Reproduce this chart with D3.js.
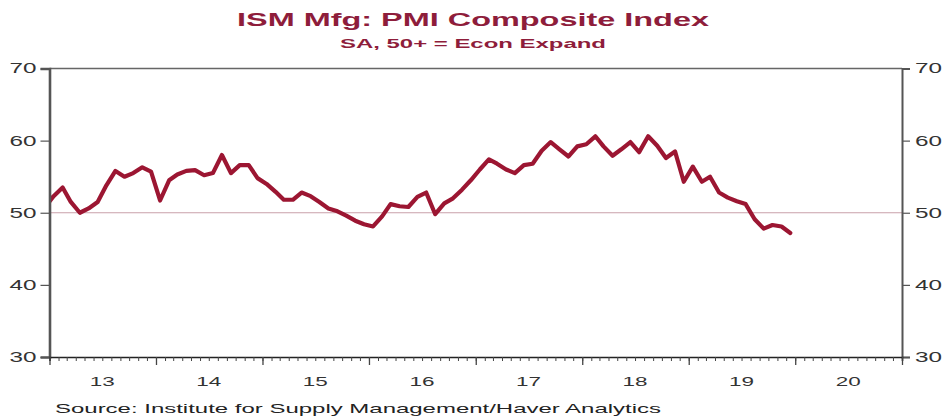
<!DOCTYPE html>
<html>
<head>
<meta charset="utf-8">
<script src="https://cdn.jsdelivr.net/npm/d3@7"></script>
<style>
  html, body { margin: 0; padding: 0; background: #fff; }
  svg { display: block; font-family: "Liberation Sans", Arial, sans-serif; }
</style>
</head>
<body>
<svg id="chart" width="945" height="417"></svg>
<script>
// ---- Data ----
const titleText = "ISM Mfg: PMI Composite Index";
const subtitleText = "SA, 50+ = Econ Expand";
const sourceText = "Source:  Institute for Supply Management/Haver Analytics";
const firstMonth = "2012-12";   // first observation (monthly, Dec 2012 .. Dec 2019)
const pmiValues = [
  50.7,
  52.3, 53.5, 51.5, 50.0, 50.6, 51.5, 53.8, 55.8, 55.0, 55.5, 56.3, 55.7,
  51.7, 54.5, 55.3, 55.8, 55.9, 55.2, 55.5, 58.0, 55.5, 56.6, 56.6, 54.8,
  54.0, 52.9, 51.8, 51.8, 52.8, 52.3, 51.5, 50.6, 50.2, 49.6, 48.9, 48.4,
  48.1, 49.5, 51.2, 50.9, 50.8, 52.2, 52.8, 49.8, 51.3, 52.0, 53.2, 54.5,
  56.0, 57.4, 56.8, 56.0, 55.5, 56.6, 56.8, 58.6, 59.8, 58.8, 57.8, 59.2,
  59.5, 60.6, 59.2, 57.9, 58.8, 59.8, 58.4, 60.6, 59.3, 57.6, 58.5, 54.3,
  56.4, 54.3, 55.0, 52.8, 52.1, 51.6, 51.2, 49.1, 47.8, 48.3, 48.1, 47.2
];
const yTicks = [30, 40, 50, 60, 70];
const yearTicks = [2013, 2014, 2015, 2016, 2017, 2018, 2019, 2020, 2021];
const yearLabels = ["13", "14", "15", "16", "17", "18", "19", "20"];
const refLevel = 50;

// ---- Layout ----
const svg = d3.select("#chart");
const L = 49.5, R = 902, T = 68.5, B = 357;
const lineColor = "#9c1632";
const titleColor = "#8e1d3b";

const x = d3.scaleTime()
  .domain([new Date(2013, 0, 1), new Date(2021, 0, 1)])
  .range([L, R]);
const y = d3.scaleLinear().domain([30, 70]).range([B, T]);

const start = d3.timeParse("%Y-%m")(firstMonth);
const data = pmiValues.map((v, i) => {
  const d = d3.timeMonth.offset(start, i);
  return { date: new Date(d.getFullYear(), d.getMonth(), 15), value: v };
});

// Titles
svg.append("text").attr("x", 473).attr("y", 26).attr("text-anchor", "middle")
  .attr("font-size", 18.5).attr("font-weight", "bold").attr("fill", titleColor)
  .attr("textLength", 472).attr("lengthAdjust", "spacingAndGlyphs")
  .text(titleText);
svg.append("text").attr("x", 473).attr("y", 48).attr("text-anchor", "middle")
  .attr("font-size", 12.5).attr("font-weight", "bold").attr("fill", titleColor)
  .attr("textLength", 266).attr("lengthAdjust", "spacingAndGlyphs")
  .text(subtitleText);

// Clip
svg.append("clipPath").attr("id", "plotclip").append("rect")
  .attr("x", L).attr("y", T).attr("width", R - L).attr("height", B - T);

// Reference line at 50
svg.append("line")
  .attr("x1", L).attr("x2", R).attr("y1", y(refLevel)).attr("y2", y(refLevel))
  .attr("stroke", "#c9a0aa").attr("stroke-width", 1.2);

// Series line
const line = d3.line().x(d => x(d.date)).y(d => y(d.value));
svg.append("path").datum(data)
  .attr("clip-path", "url(#plotclip)")
  .attr("fill", "none").attr("stroke", lineColor)
  .attr("stroke-width", 4.2).attr("stroke-linejoin", "round").attr("stroke-linecap", "round")
  .attr("d", line);

// Frame: top
svg.append("line").attr("x1", L).attr("x2", R).attr("y1", T).attr("y2", T)
  .attr("stroke", "#666").attr("stroke-width", 1.5);

// Left axis
const leftAxis = d3.axisLeft(y).tickValues(yTicks).tickSize(9).tickFormat(d3.format("d"));
const gL = svg.append("g").attr("transform", `translate(${L},0)`).call(leftAxis);
gL.select(".domain").attr("stroke", "#555").attr("stroke-width", 2.6);
gL.selectAll(".tick line").attr("stroke", "#555").attr("stroke-width", 1.2);
gL.selectAll(".tick text").attr("font-size", 14).attr("fill", "#333")
  .attr("font-family", "Liberation Sans, Arial, sans-serif")
  .attr("x", -13).attr("textLength", 27).attr("lengthAdjust", "spacingAndGlyphs");

// Right axis
const rightAxis = d3.axisRight(y).tickValues(yTicks).tickSize(8).tickFormat(d3.format("d"));
const gR = svg.append("g").attr("transform", `translate(${R},0)`).call(rightAxis);
gR.select(".domain").attr("stroke", "#555").attr("stroke-width", 2);
gR.selectAll(".tick line").attr("stroke", "#555").attr("stroke-width", 1.2);
gR.selectAll(".tick text").attr("font-size", 14).attr("fill", "#333")
  .attr("font-family", "Liberation Sans, Arial, sans-serif")
  .attr("x", 13).attr("textLength", 27).attr("lengthAdjust", "spacingAndGlyphs");

// Bottom axis: minor monthly ticks
const minorAxis = d3.axisBottom(x)
  .tickValues(d3.timeMonth.range(new Date(2013, 0, 1), new Date(2021, 0, 1)))
  .tickSize(4).tickFormat("");
const gM = svg.append("g").attr("transform", `translate(0,${B})`).call(minorAxis);
gM.select(".domain").attr("stroke", "#222").attr("stroke-width", 1.6);
gM.selectAll(".tick line").attr("stroke", "#444").attr("stroke-width", 1);

// Bottom axis: major yearly ticks
const majorAxis = d3.axisBottom(x)
  .tickValues(yearTicks.map(yr => new Date(yr, 0, 1)))
  .tickSize(8).tickFormat("");
const gY = svg.append("g").attr("transform", `translate(0,${B})`).call(majorAxis);
gY.select(".domain").remove();
gY.selectAll(".tick line").attr("stroke", "#444").attr("stroke-width", 1.3);

// Year labels centred in each year
svg.append("g").selectAll("text").data(yearLabels).join("text")
  .attr("x", (d, i) => x(new Date(yearTicks[i], 6, 1)))
  .attr("y", 386).attr("text-anchor", "middle")
  .attr("font-size", 13.5).attr("fill", "#333")
  .attr("textLength", 25).attr("lengthAdjust", "spacingAndGlyphs")
  .text(d => d);

// Source
svg.append("text").attr("x", 55).attr("y", 413)
  .attr("font-size", 13).attr("fill", "#222")
  .attr("textLength", 606).attr("lengthAdjust", "spacingAndGlyphs")
  .text(sourceText);
</script>
</body>
</html>
